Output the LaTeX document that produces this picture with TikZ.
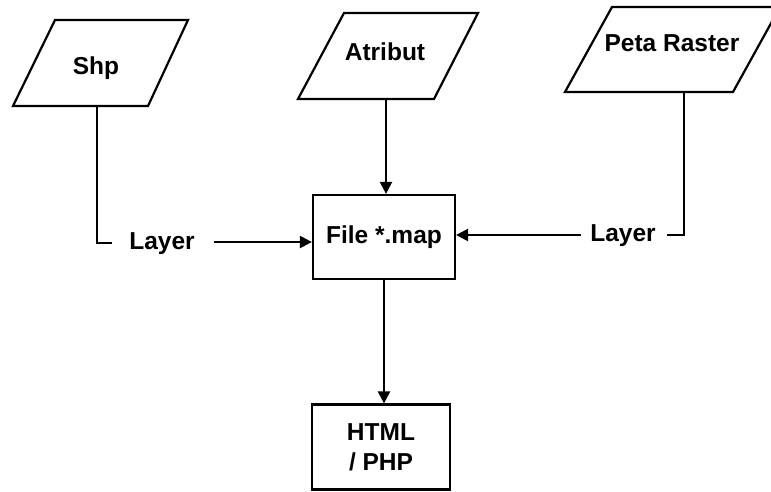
\documentclass[tikz,border=0pt]{standalone}
\usepackage{fontspec}
\setmainfont{Liberation Sans}
\usetikzlibrary{arrows.meta}
\begin{document}
\begin{tikzpicture}[x=1pt,y=-1pt,line width=2.2pt,
  lbl/.style={font=\fontsize{24.5}{30}\selectfont\bfseries,inner sep=0pt},
  box/.style={draw,rectangle,align=center,font=\fontsize{24.5}{30}\selectfont\bfseries},
  conn/.style={-{Triangle[length=12pt,width=12pt]}},
  wire/.style={line join=miter}]
\useasboundingbox (0,0) rectangle (771,492);
% Shp
\draw[wire] (13,106) -- (55,20) -- (188,20) -- (148,106) -- cycle;
\node[lbl] (shp) at (96,68) {Shp};
\coordinate (shpb) at (97,106);
% Atribut
\draw[wire] (298,99) -- (344,13) -- (478,13) -- (434,99) -- cycle;
\node[lbl] (atr) at (385,52) {Atribut};
\coordinate (atrb) at (386,99);
% Peta Raster
\draw[wire] (565,92) -- (612,7) -- (780,7) -- (733,92) -- cycle;
\node[lbl] (peta) at (672,43) {Peta Raster};
\coordinate (petab) at (684,92);
% File *.map
\node[box,minimum width=142pt,minimum height=84pt] (file) at (384,237) {File *.map};
% HTML / PHP
\node[box,minimum width=138pt,minimum height=85pt] (html) at (381,447) {HTML\\/ PHP};
% Layer labels
\node[lbl] (layL) at (162,244) {Layer};
\node[lbl] (layR) at (623,236) {Layer};
% connectors
\draw[wire] (shpb) |- ([xshift=-16pt]layL.west |- 0,243);
\draw[conn] ([xshift=18pt]layL.east |- 0,242) -- (file.west |- 0,242);
\draw[wire] (petab) |- ([xshift=10pt]layR.east |- 0,235);
\draw[conn] ([xshift=-8pt]layR.west |- 0,235) -- (file.east |- 0,235);
\draw[conn] (atrb) -- (atrb |- file.north);
\draw[conn] (file.south -| 384,0) -- (html.north -| 384,0);
\end{tikzpicture}
\end{document}
